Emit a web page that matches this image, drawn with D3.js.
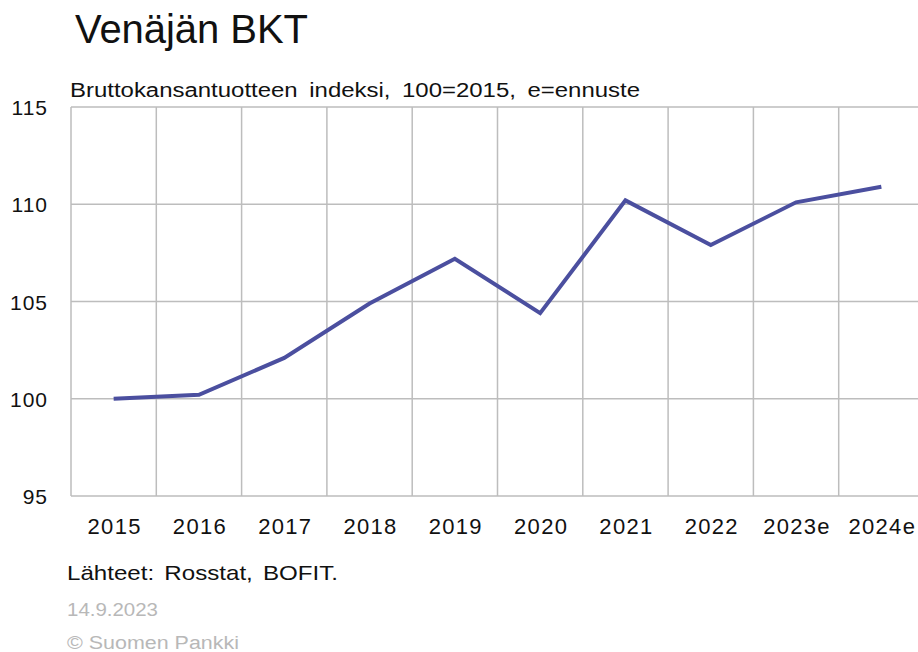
<!DOCTYPE html>
<html>
<head>
<meta charset="utf-8">
<script src="https://cdn.jsdelivr.net/npm/d3@7"></script>
<style>
  body { margin: 0; background: #fff; }
  svg { display: block; font-family: "Liberation Sans", Arial, sans-serif; }
</style>
</head>
<body>
<div id="chart"></div>
<script>
var width = 918,
  height = 652;

// data
var years = [ "2015", "2016", "2017", "2018", "2019", "2020", "2021", "2022", "2023e", "2024e" ];
var gdpIndex = [ 100, 100.2, 102.1, 104.9, 107.2, 104.4, 110.2, 107.9, 110.1, 110.9 ];
var yTicks = [ 95, 100, 105, 110, 115 ];

var plot = { left: 71, right: 924, top: 107, bottom: 496 };

var svg = d3.select( "#chart" ).append( "svg" )
  .attr( "width", width )
  .attr( "height", height );

var xScale = d3.scaleBand()
  .domain( years )
  .range( [ plot.left, plot.right ] );

var yScale = d3.scaleLinear()
  .domain( [ 95, 115 ] )
  .range( [ plot.bottom, plot.top ] );

// horizontal grid
svg.selectAll( "line.hgrid" )
  .data( yTicks )
  .enter().append( "line" )
    .attr( "class", "hgrid" )
    .attr( "x1", plot.left )
    .attr( "x2", plot.right )
    .attr( "y1", d => yScale( d ) )
    .attr( "y2", d => yScale( d ) )
    .attr( "stroke", "#bdbdbd" )
    .attr( "stroke-width", 1.5 );

// vertical grid (band edges)
svg.selectAll( "line.vgrid" )
  .data( years )
  .enter().append( "line" )
    .attr( "class", "vgrid" )
    .attr( "x1", d => xScale( d ) )
    .attr( "x2", d => xScale( d ) )
    .attr( "y1", plot.top )
    .attr( "y2", plot.bottom )
    .attr( "stroke", "#bdbdbd" )
    .attr( "stroke-width", 1.5 );

// y labels
svg.selectAll( "text.ylab" )
  .data( yTicks )
  .enter().append( "text" )
    .attr( "class", "ylab" )
    .attr( "x", 48 )
    .attr( "y", d => yScale( d ) + 8 )
    .attr( "text-anchor", "end" )
    .style( "font-size", "21px" )
    .style( "letter-spacing", "1px" )
    .attr( "fill", "#111" )
    .text( d => d );

// x labels
svg.selectAll( "text.xlab" )
  .data( years )
  .enter().append( "text" )
    .attr( "class", "xlab" )
    .attr( "x", d => xScale( d ) + xScale.bandwidth() / 2 + 1 )
    .attr( "y", 534 )
    .attr( "text-anchor", "middle" )
    .style( "font-size", "22px" )
    .style( "letter-spacing", "1.3px" )
    .attr( "fill", "#111" )
    .text( d => d );

// line
var line = d3.line()
  .x( ( d, i ) => xScale( years[ i ] ) + xScale.bandwidth() / 2 )
  .y( d => yScale( d ) );

svg.append( "path" )
  .datum( gdpIndex )
  .attr( "d", line )
  .attr( "fill", "none" )
  .attr( "stroke", "#4b4f9f" )
  .attr( "stroke-width", 4 )
  .attr( "stroke-linejoin", "miter" );

// texts
svg.append( "text" )
  .attr( "x", 75 )
  .attr( "y", 43 )
  .style( "font-size", "40px" )
  .attr( "fill", "#111" )
  .attr( "textLength", 233 )
  .attr( "lengthAdjust", "spacing" )
  .text( "Venäjän BKT" );

svg.append( "text" )
  .attr( "x", 70 )
  .attr( "y", 97 )
  .style( "font-size", "19.5px" )
  .style( "word-spacing", "4px" )
  .attr( "fill", "#111" )
  .attr( "textLength", 570 )
  .attr( "lengthAdjust", "spacingAndGlyphs" )
  .text( "Bruttokansantuotteen indeksi, 100=2015, e=ennuste" );

svg.append( "text" )
  .attr( "x", 67 )
  .attr( "y", 580 )
  .style( "font-size", "21px" )
  .style( "word-spacing", "3px" )
  .attr( "fill", "#111" )
  .attr( "textLength", 271 )
  .attr( "lengthAdjust", "spacingAndGlyphs" )
  .text( "Lähteet: Rosstat, BOFIT." );

svg.append( "text" )
  .attr( "x", 67 )
  .attr( "y", 616 )
  .style( "font-size", "18px" )
  .attr( "fill", "#b8b8b8" )
  .attr( "textLength", 91 )
  .attr( "lengthAdjust", "spacingAndGlyphs" )
  .text( "14.9.2023" );

svg.append( "text" )
  .attr( "x", 67 )
  .attr( "y", 649 )
  .style( "font-size", "18px" )
  .attr( "fill", "#b8b8b8" )
  .attr( "textLength", 172 )
  .attr( "lengthAdjust", "spacingAndGlyphs" )
  .text( "© Suomen Pankki" );
</script>
</body>
</html>
